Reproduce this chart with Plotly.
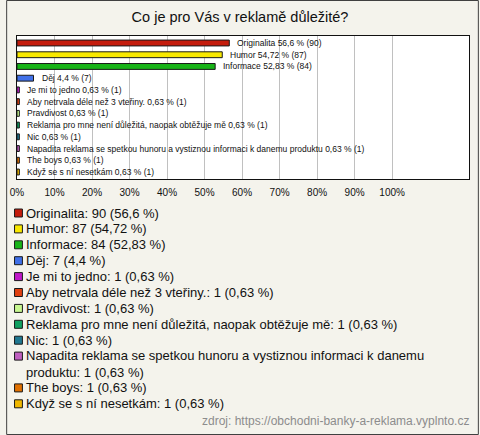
import plotly.graph_objects as go

# ---------------- data ----------------
categories = [
    "Originalita",
    "Humor",
    "Informace",
    "Děj",
    "Je mi to jedno",
    "Aby netrvala déle než 3 vteřiny.",
    "Pravdivost",
    "Reklama pro mne není důležitá, naopak obtěžuje mě",
    "Nic",
    "Napadita reklama se spetkou hunoru a vystiznou informaci k danemu produktu",
    "The boys",
    "Když se s ní nesetkám",
]
legend_names = list(categories)
legend_names[9] = "Napadita reklama se spetkou hunoru a vystiznou informaci k danemu<br>produktu"
counts = [90, 87, 84, 7, 1, 1, 1, 1, 1, 1, 1, 1]
percents = [56.6, 54.72, 52.83, 4.4, 0.63, 0.63, 0.63, 0.63, 0.63, 0.63, 0.63, 0.63]
colors = ["#c41c0c", "#f8e800", "#18b418", "#4070e8", "#c018c8", "#e04010",
          "#c8f890", "#10a060", "#207890", "#c060c0", "#e07000", "#f0b800"]
tick_values = [0, 10, 20, 30, 40, 50, 60, 70, 80, 90, 100]
tick_labels = ["0%", "10%", "20%", "30%", "40%", "50%", "60%", "70%", "80%", "90%", "100%"]
title = "Co je pro Vás v reklamě důležité?"
source = "zdroj: https://obchodni-banky-a-reklama.vyplnto.cz"

# ---------------- layout constants ----------------
W, H = 480, 435
ML, MR, MT, MB = 11, 10, 36, 256
PW = W - ML - MR
PH = H - MT - MB
FONT = "Liberation Sans, Arial, sans-serif"


def px(xp):
    return (xp - ML) / PW


def py(yp):
    return (H - MB - yp) / PH


def fmt(p):
    return f"{p:g}".replace(".", ",")


fig = go.Figure()
fig.add_trace(go.Bar(
    x=percents, y=categories, orientation="h",
    marker=dict(color=colors, line=dict(color="#1a1a1a", width=1)),
    width=0.5, hoverinfo="skip", showlegend=False,
))

annotations = []
# bar value labels
for c, p, n in zip(categories, percents, counts):
    annotations.append(dict(
        x=p, y=c, xref="x", yref="y", xanchor="left", yanchor="middle",
        xshift=6, showarrow=False,
        text=f"{c} {fmt(p)} % ({n})",
        font=dict(size=8.5, color="#111111", family=FONT),
    ))

# custom legend
shapes = []
row_y = 213.0
step = 15.9
for name, n, p, col in zip(legend_names, counts, percents, colors):
    lines = name.count("<br>") + 1
    center = row_y + step * (lines - 1) / 2
    shapes.append(dict(
        type="rect", xref="paper", yref="paper",
        x0=px(8.5), x1=px(16.5), y0=py(row_y + 4), y1=py(row_y - 4),
        fillcolor=col, line=dict(color="#1a1a1a", width=1),
    ))
    annotations.append(dict(
        x=px(18), y=py(center), xref="paper", yref="paper",
        xanchor="left", yanchor="middle", align="left", showarrow=False,
        text=f"{name}: {n} ({fmt(p)} %)",
        font=dict(size=13, color="#111111", family=FONT),
    ))
    row_y += step * lines

# source
annotations.append(dict(
    x=px(472), y=py(421), xref="paper", yref="paper",
    xanchor="right", yanchor="middle", showarrow=False,
    text=source, font=dict(size=12, color="#8c8c8c", family=FONT),
))

# outer frame of the image
shapes.append(dict(
    type="rect", xref="paper", yref="paper",
    x0=px(0.5), x1=px(W - 0.5), y0=py(H - 0.5), y1=py(0.5),
    line=dict(color="#404040", width=1), fillcolor="rgba(0,0,0,0)", layer="below",
))

fig.update_layout(
    width=W, height=H,
    margin=dict(l=ML, r=MR, t=MT, b=MB, pad=0),
    paper_bgcolor="#f4f3ec", plot_bgcolor="#ffffff",
    title=dict(text=title, x=0.5, xref="container", xanchor="center",
               y=1 - 17 / H, yref="container", yanchor="middle",
               font=dict(size=14.5, color="#111111", family=FONT)),
    xaxis=dict(range=[0, 120.5], tickvals=tick_values, ticktext=tick_labels,
               showgrid=True, gridcolor="#c0c0c0", gridwidth=1, zeroline=False,
               showline=True, linecolor="#111111", linewidth=1, mirror=True,
               ticks="", ticklabelstandoff=4,
               tickfont=dict(size=10, color="#111111", family=FONT),
               fixedrange=True),
    yaxis=dict(categoryorder="array", categoryarray=categories, autorange="reversed",
               showticklabels=False, showgrid=False, zeroline=False,
               showline=True, linecolor="#111111", linewidth=1, mirror=True,
               ticks="", fixedrange=True),
    annotations=annotations,
    shapes=shapes,
    bargap=0.5,
    showlegend=False,
)

fig.write_html("out.html", config={"displayModeBar": False},
               post_script="document.body.style.margin='0';document.body.style.overflow='hidden';")
